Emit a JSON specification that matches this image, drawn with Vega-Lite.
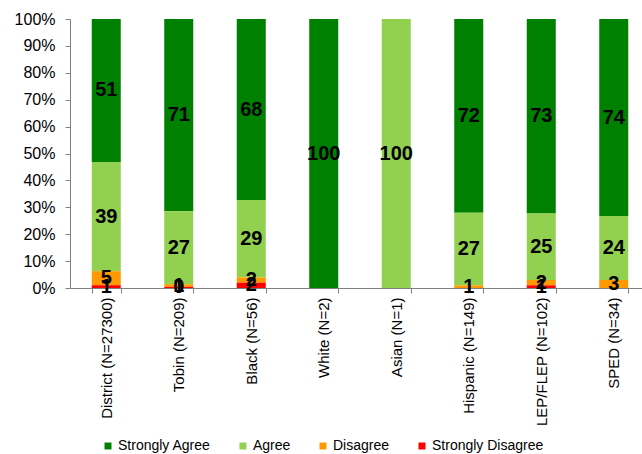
{
  "$schema": "https://vega.github.io/schema/vega-lite/v6.json",
  "width": 572,
  "height": 269,
  "autosize": "none",
  "padding": {"left": 70, "top": 19, "right": 0, "bottom": 166},
  "config": {
    "font": "Liberation Sans",
    "view": {"stroke": null},
    "axis": {"grid": false, "domainColor": "#808080", "tickColor": "#808080", "labelColor": "#000000", "labelFont": "Liberation Sans"}
  },
  "data": {
    "values": [
      {"group": "District (N=27300)", "response": "Strongly Agree", "value": 51, "order": 4},
      {"group": "District (N=27300)", "response": "Agree", "value": 39, "order": 3},
      {"group": "District (N=27300)", "response": "Disagree", "value": 5, "order": 2},
      {"group": "District (N=27300)", "response": "Strongly Disagree", "value": 1, "order": 1},
      {"group": "Tobin (N=209)", "response": "Strongly Agree", "value": 71, "order": 4},
      {"group": "Tobin (N=209)", "response": "Agree", "value": 27, "order": 3},
      {"group": "Tobin (N=209)", "response": "Disagree", "value": 1, "order": 2},
      {"group": "Tobin (N=209)", "response": "Strongly Disagree", "value": 0.4, "order": 1},
      {"group": "Black (N=56)", "response": "Strongly Agree", "value": 68, "order": 4},
      {"group": "Black (N=56)", "response": "Agree", "value": 29, "order": 3},
      {"group": "Black (N=56)", "response": "Disagree", "value": 2, "order": 2},
      {"group": "Black (N=56)", "response": "Strongly Disagree", "value": 2, "order": 1},
      {"group": "White (N=2)", "response": "Strongly Agree", "value": 100, "order": 4},
      {"group": "Asian (N=1)", "response": "Agree", "value": 100, "order": 3},
      {"group": "Hispanic (N=149)", "response": "Strongly Agree", "value": 72, "order": 4},
      {"group": "Hispanic (N=149)", "response": "Agree", "value": 27, "order": 3},
      {"group": "Hispanic (N=149)", "response": "Disagree", "value": 1, "order": 2},
      {"group": "LEP/FLEP (N=102)", "response": "Strongly Agree", "value": 73, "order": 4},
      {"group": "LEP/FLEP (N=102)", "response": "Agree", "value": 25, "order": 3},
      {"group": "LEP/FLEP (N=102)", "response": "Disagree", "value": 2, "order": 2},
      {"group": "LEP/FLEP (N=102)", "response": "Strongly Disagree", "value": 1, "order": 1},
      {"group": "SPED (N=34)", "response": "Strongly Agree", "value": 74, "order": 4},
      {"group": "SPED (N=34)", "response": "Agree", "value": 24, "order": 3},
      {"group": "SPED (N=34)", "response": "Disagree", "value": 3, "order": 2}
    ]
  },
  "transform": [
    {"stack": "value", "groupby": ["group"], "sort": [{"field": "order", "order": "ascending"}], "offset": "normalize", "as": ["y0", "y1"]},
    {"calculate": "(datum.y0 + datum.y1) / 2", "as": "ymid"}
  ],
  "encoding": {
    "x": {
      "field": "group", "type": "nominal", "sort": null,
      "scale": {"range": [0, 580], "paddingInner": 0.6, "paddingOuter": 0.3},
      "axis": {"title": null, "labelAngle": -90, "labelFontSize": 15, "labelPadding": 4, "tickBand": "extent", "tickSize": 5, "labelAlign": "right", "labelBaseline": "middle"}
    }
  },
  "layer": [
    {
      "mark": {"type": "bar"},
      "encoding": {
        "y": {"field": "y0", "type": "quantitative", "scale": {"domain": [0, 1]},
          "axis": {"title": null, "format": ".0%", "values": [0,0.1,0.2,0.3,0.4,0.5,0.6,0.7,0.8,0.9,1], "labelOverlap": false, "labelFlush": false, "labelFontSize": 16, "tickSize": 5, "labelPadding": 10}},
        "y2": {"field": "y1"},
        "color": {
          "field": "response", "type": "nominal",
          "scale": {"domain": ["Strongly Agree", "Agree", "Disagree", "Strongly Disagree"], "range": ["#008000", "#92D050", "#FF9900", "#FF0000"]},
          "legend": {"title": null, "orient": "none", "direction": "horizontal", "legendX": 31, "legendY": 420, "symbolType": "square", "symbolSize": 49, "symbolStrokeWidth": 0, "symbolOpacity": 1, "labelFontSize": 14, "labelOffset": 3, "columnPadding": 25, "padding": 0, "labelFont": "Liberation Sans"}
        }
      }
    },
    {
      "mark": {"type": "text", "fontWeight": "bold", "fontSize": 20, "color": "#000000", "baseline": "middle", "align": "center"},
      "encoding": {
        "y": {"field": "ymid", "type": "quantitative", "scale": {"domain": [0, 1]},
          "axis": {"title": null, "format": ".0%", "values": [0,0.1,0.2,0.3,0.4,0.5,0.6,0.7,0.8,0.9,1], "labelOverlap": false, "labelFlush": false, "labelFontSize": 16, "tickSize": 5, "labelPadding": 10}},
        "text": {"field": "value", "type": "quantitative", "format": ".0f"}
      }
    }
  ]
}
